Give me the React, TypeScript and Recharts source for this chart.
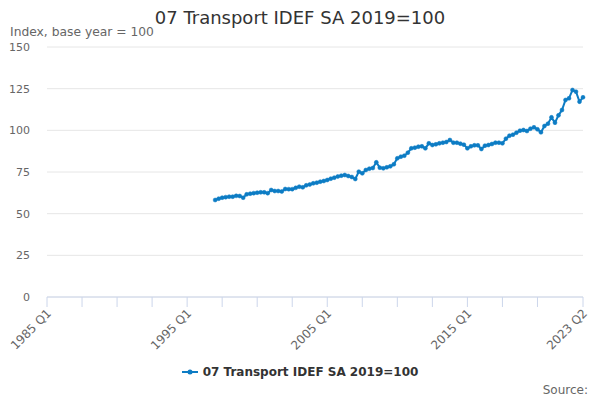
import React from "react";
import { LineChart, Line, XAxis, YAxis, CartesianGrid, Legend } from "recharts";

// quarter labels 1985 Q1 .. 2023 Q2 (index = position on the x axis)
const quarters: string[] = [];
for (let y = 1985; y <= 2023; y++) {
  for (let q = 1; q <= 4; q++) {
    if (y === 2023 && q > 2) break;
    quarters.push(`${y} Q${q}`);
  }
}

const firstQuarter = "1997 Q1";

// 07 Transport IDEF SA, 2019=100, from 1997 Q1 to 2023 Q2
const transportIndex = [
  58.2, 59.0, 59.6, 59.9, 60.2, 60.2, 60.7, 60.6, 59.6, 61.6, 62.0, 62.3,
  62.6, 62.8, 62.8, 62.3, 64.2, 63.6, 63.6, 63.3, 64.8, 64.7, 64.7, 65.5,
  66.2, 65.8, 67.0, 67.5, 68.2, 68.6, 69.2, 69.6, 70.2, 71.0, 71.6, 72.3,
  72.8, 73.2, 72.6, 72.0, 70.8, 75.2, 74.2, 76.2, 77.0, 77.4, 80.8, 77.6,
  77.2, 77.8, 78.4, 79.6, 83.2, 84.2, 84.8, 86.6, 89.2, 89.6, 90.2, 90.4,
  89.2, 92.2, 91.2, 91.6, 92.2, 92.6, 93.0, 94.2, 92.6, 92.6, 92.0, 91.4,
  89.2, 90.4, 91.0, 91.0, 88.8, 90.8, 91.2, 91.8, 92.6, 92.6, 92.2, 95.0,
  96.8, 97.4, 98.6, 99.8, 100.2, 99.6, 101.0, 101.8, 100.6, 98.8, 102.6, 104.0,
  107.8, 104.6, 109.0, 112.2, 118.2, 119.2, 124.2, 123.2, 117.2, 119.8,
];

const tickQuarters = [
  "1985 Q1", "1987 Q3", "1990 Q1", "1992 Q3", "1995 Q1", "1997 Q3",
  "2000 Q1", "2002 Q3", "2005 Q1", "2007 Q3", "2010 Q1", "2012 Q3",
  "2015 Q1", "2017 Q3", "2020 Q1", "2023 Q2",
];
const labelledQuarters = ["1985 Q1", "1995 Q1", "2005 Q1", "2015 Q1", "2023 Q2"];

const yTicks = [0, 25, 50, 75, 100, 125, 150];

const seriesName = "07 Transport IDEF SA 2019=100";
const lineColor = "#0d7cc4";
const font = "'DejaVu Sans', sans-serif";

const start = quarters.indexOf(firstQuarter);
const data = transportIndex.map((v, k) => ({ i: start + k, value: v }));

const XTick = (props: any) => {
  const { x, y, payload } = props;
  const label = quarters[payload.value];
  if (!labelledQuarters.includes(label)) return null;
  const ax = x + 5;
  const ay = y + 5;
  return (
    <text
      x={ax}
      y={ay}
      textAnchor="end"
      fill="#666666"
      fontSize={12}
      fontFamily={font}
      transform={`rotate(-45 ${ax} ${ay})`}
    >
      {label}
    </text>
  );
};

const renderLegend = () => (
  <div style={{ display: "flex", justifyContent: "center", alignItems: "center" }}>
    <svg width={21} height={14}>
      <line x1={0} y1={7} x2={16} y2={7} stroke={lineColor} strokeWidth={2} />
      <circle cx={8} cy={7} r={2.5} fill={lineColor} />
    </svg>
    <span
      style={{ fontFamily: font, fontSize: 12, fontWeight: "bold", color: "#333333" }}
    >
      {seriesName}
    </span>
  </div>
);

export default function App() {
  return (
    <div style={{ position: "relative", width: 600, height: 400, background: "#fff" }}>
      <style>{`body{margin:0}`}</style>
      <LineChart
        width={600}
        height={400}
        data={data}
        margin={{ top: 47, right: 17, left: 0, bottom: 73 }}
      >
        <text x={300} y={24} textAnchor="middle" fontSize={18} fill="#333333" fontFamily={font}>
          {seriesName}
        </text>
        <text x={10} y={36} fontSize={12.3} fill="#666666" fontFamily={font}>
          Index, base year = 100
        </text>
        <text x={588} y={394} textAnchor="end" fontSize={12} fill="#666666" fontFamily={font}>
          Source:
        </text>
        <CartesianGrid vertical={false} stroke="#e6e6e6" />
        <XAxis
          type="number"
          dataKey="i"
          domain={[0, quarters.length - 1]}
          ticks={tickQuarters.map((q) => quarters.indexOf(q))}
          interval={0}
          height={30}
          stroke="#ccd6eb"
          tickSize={10}
          tick={<XTick />}
        />
        <YAxis
          domain={[0, 150]}
          ticks={yTicks}
          width={47}
          axisLine={false}
          tickLine={false}
          tickMargin={11}
          tick={{ fill: "#666666", fontSize: 11, fontFamily: font }}
        />
        <Legend
          layout="horizontal"
          verticalAlign="middle"
          align="center"
          wrapperStyle={{ top: 365, left: 0, width: 600 }}
          content={renderLegend}
        />
        <Line
          type="linear"
          dataKey="value"
          name={seriesName}
          stroke={lineColor}
          strokeWidth={2}
          dot={{ r: 2, fill: lineColor, stroke: lineColor, strokeWidth: 0.5 }}
          activeDot={false}
          isAnimationActive={false}
        />
      </LineChart>
    </div>
  );
}
